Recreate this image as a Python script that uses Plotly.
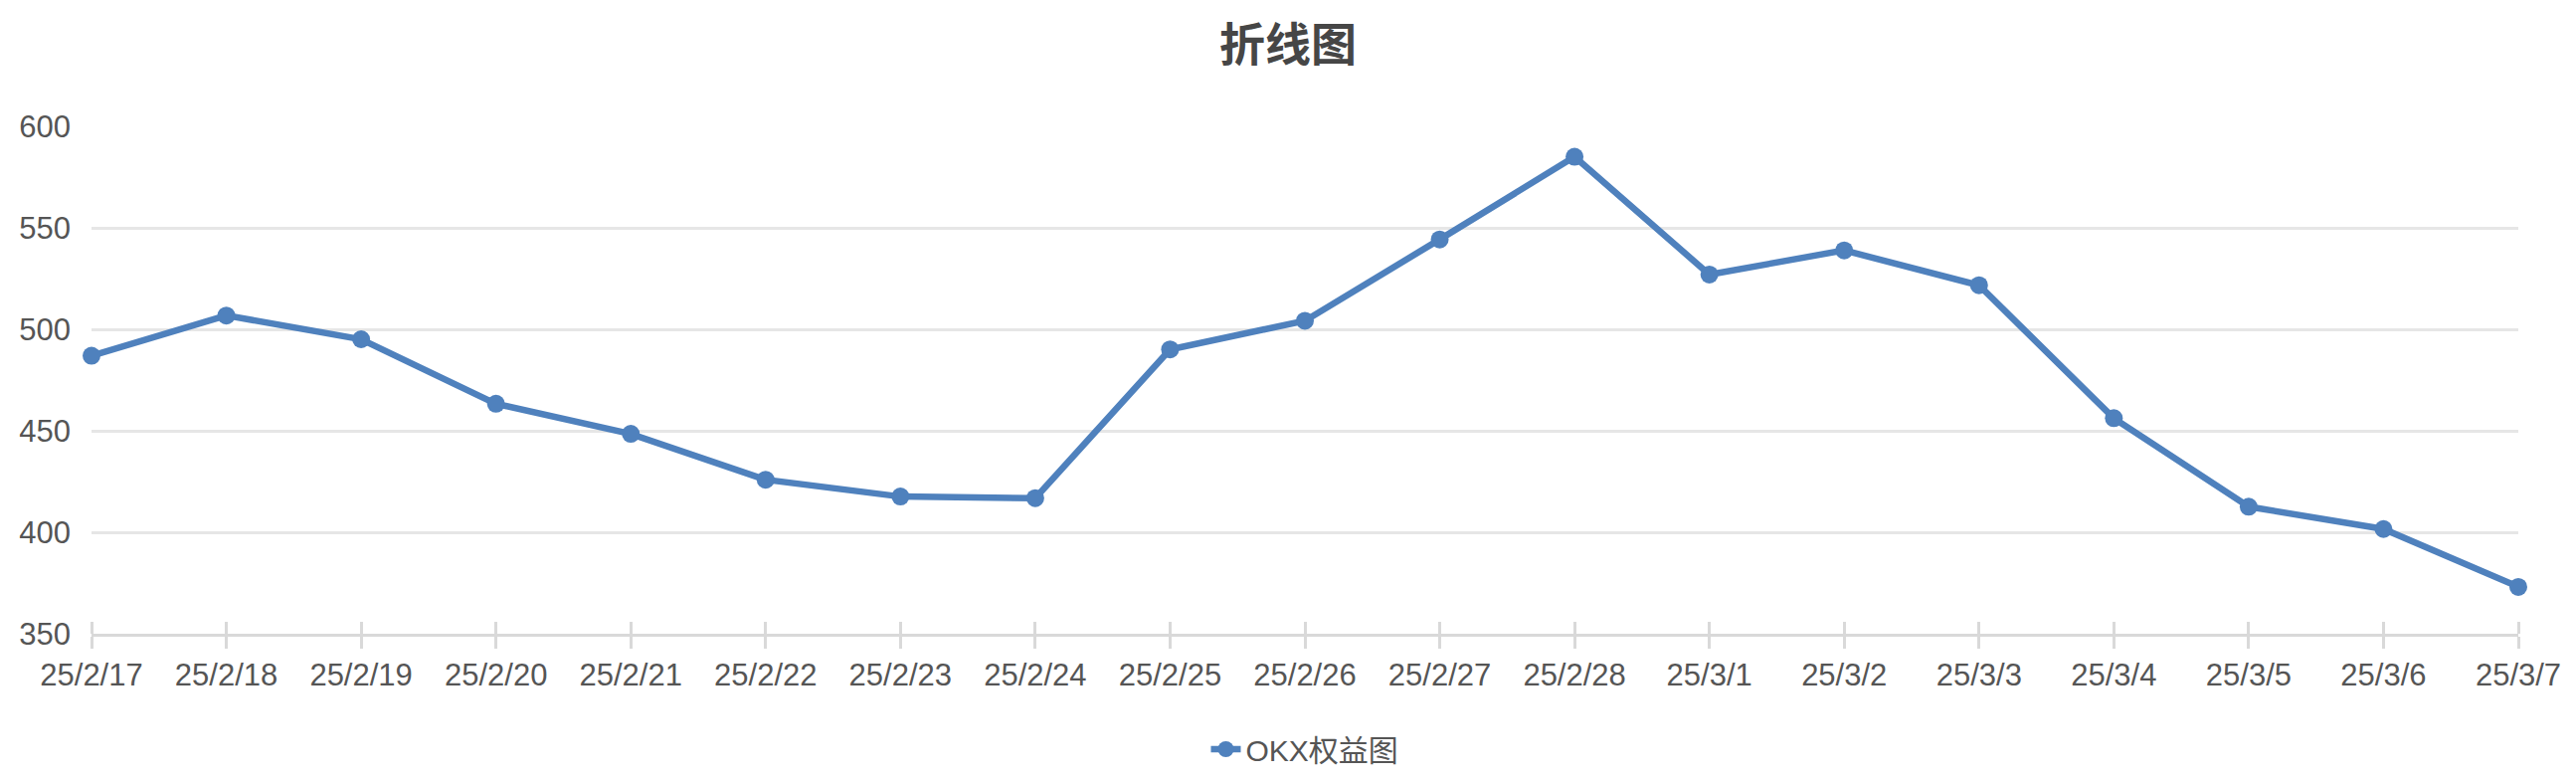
import plotly.graph_objects as go

# dates shown on the x axis
dates = ["25/2/17", "25/2/18", "25/2/19", "25/2/20", "25/2/21", "25/2/22", "25/2/23",
         "25/2/24", "25/2/25", "25/2/26", "25/2/27", "25/2/28", "25/3/1", "25/3/2",
         "25/3/3", "25/3/4", "25/3/5", "25/3/6", "25/3/7"]

# OKX equity values
equity = [487.0, 506.8, 495.1, 463.3, 448.5, 425.9, 417.6, 416.8, 490.1, 504.2,
          544.3, 585.0, 527.0, 538.9, 521.7, 456.2, 412.6, 401.6, 373.1]

series_name = "OKX权益图"
title_text = "折线图"

blue = "#4f81bd"
font_family = "Liberation Sans, Noto Sans CJK SC, sans-serif"

fig = go.Figure()
fig.add_trace(go.Scatter(
    x=dates, y=equity, name=series_name, mode="lines+markers",
    line=dict(color=blue, width=6.5),
    marker=dict(color=blue, size=18),
    cliponaxis=False,
))
# invisible copy so the upward tick marks (xaxis2) get drawn
fig.add_trace(go.Scatter(
    x=dates, y=equity, xaxis="x2", mode="lines",
    line=dict(width=0), showlegend=False, hoverinfo="skip",
))

fig.update_layout(
    width=2590, height=784,
    margin=dict(l=92, r=58, t=127, b=147),
    paper_bgcolor="white", plot_bgcolor="white",
    font=dict(family=font_family, size=31, color="#555555"),
    title=dict(text="<b>" + title_text + "</b>", x=0.5, xanchor="center",
               yref="container", y=1 - 45 / 784, yanchor="middle",
               font=dict(size=46, color="#464646")),
    legend=dict(orientation="h", x=0.5, xanchor="center",
                yref="container", y=1 - 753 / 784, yanchor="middle",
                font=dict(size=30, color="#555555")),
    xaxis=dict(type="category", range=[0, len(dates) - 1],
               showgrid=False, showline=True, linecolor="#d9d9d9", linewidth=2.6,
               ticks="outside", ticklen=12, tickwidth=2.6, tickcolor="#d9d9d9",
               tickfont=dict(size=31, color="#555555")),
    xaxis2=dict(type="category", matches="x", overlaying="x", side="top",
                anchor="free", position=0, showgrid=False, showline=False,
                ticks="outside", ticklen=12, tickwidth=2.6, tickcolor="#d9d9d9",
                showticklabels=False),
    yaxis=dict(range=[350, 600], dtick=50, showline=False, zeroline=False,
               gridcolor="#e6e6e6", gridwidth=2.6, ticklabelstandoff=20,
               tickfont=dict(size=31, color="#555555")),
)

fig.write_html("out.html", config={"displayModeBar": False},
               post_script="document.body.style.margin='0';")
